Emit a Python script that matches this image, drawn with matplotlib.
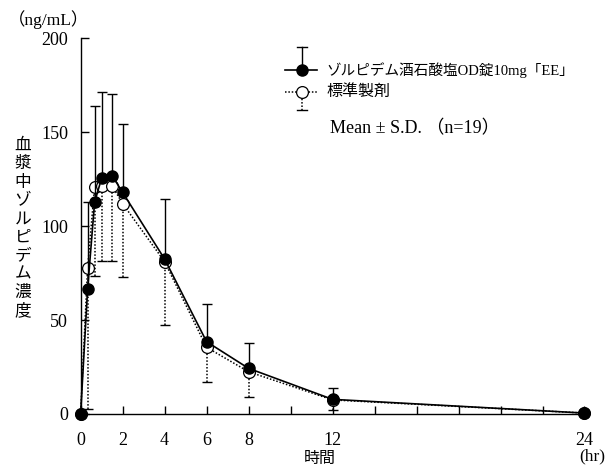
import matplotlib
matplotlib.use("Agg")
import matplotlib.pyplot as plt
from matplotlib.lines import Line2D
import numpy as np

# sampling times (hr)
times = [0, 1/3, 2/3, 1, 1.5, 2, 4, 6, 8, 12, 24]
# ゾルピデム酒石酸塩OD錠10mg「EE」 (test)
test_mean = [0, 66.4, 112.7, 125.5, 126.9, 118.0, 82.5, 38.5, 24.3, 7.8, 0.5]
test_sd = [0, 46.6, 51.4, 45.8, 43.7, 36.6, 32.0, 19.9, 13.7, 5.9, 0]
# 標準製剤 (reference)
ref_mean = [0, 77.6, 121.0, 121.5, 121.5, 112.0, 81.1, 35.5, 22.5, 7.5, 0.5]
ref_sd = [0, 74.9, 47.5, 39.9, 40.0, 39.2, 33.9, 18.6, 13.3, 5.4, 0]

xticks = [0, 2, 4, 6, 8, 10, 12, 14, 16, 18, 20, 22, 24]
xticklabels = ["0", "2", "4", "6", "8", "", "12", "", "", "", "", "", "24"]
yticks = [0, 50, 100, 150, 200]

label_test = "ゾルピデム酒石酸塩OD錠10mg「EE」"
label_ref = "標準製剤"

serif = ["Liberation Serif", "Noto Sans CJK JP"]
jp = ["Noto Sans CJK JP", "Liberation Serif"]

W, H = 607, 468
fig = plt.figure(figsize=(W / 100, H / 100), dpi=100)
ax = fig.add_axes([80.6 / W, 1 - 414 / H, 503.9 / W, 375.7 / H])

t = np.array(times)
tm, ts = np.array(test_mean), np.array(test_sd)
rm, rs = np.array(ref_mean), np.array(ref_sd)
idx = slice(1, 10)

# reference: dotted line, lower error bars
eb = ax.errorbar(t[idx], rm[idx], yerr=[rs[idx], np.zeros(9)], fmt="none",
                 ecolor="black", elinewidth=1.1, capsize=3.8, capthick=1.0,
                 zorder=2)
eb[2][0].set_linestyle((0, (1, 1.2)))
ax.plot(t, rm, linestyle=(0, (1, 1.2)), color="black", linewidth=1.1,
        marker="o", markersize=8.5, markerfacecolor="white",
        markeredgecolor="black", markeredgewidth=0.9, zorder=3, clip_on=False)

# test: solid line, upper error bars
ax.errorbar(t[idx], tm[idx], yerr=[np.zeros(9), ts[idx]], fmt="none",
            ecolor="black", elinewidth=1.0, capsize=3.8, capthick=1.0,
            zorder=4)
ax.plot(t, tm, linestyle="-", color="black", linewidth=1.2,
        marker="o", markersize=8, markerfacecolor="black",
        markeredgecolor="black", zorder=5, clip_on=False)

ax.set_xlim(0, 24)
ax.set_ylim(0, 200)
ax.spines["top"].set_visible(False)
ax.spines["right"].set_visible(False)
for s in ("left", "bottom"):
    ax.spines[s].set_linewidth(1.0)

ax.set_xticks(xticks)
ax.set_xticklabels(xticklabels, family=serif, fontsize=13)
ax.set_yticks(yticks)
ax.set_yticklabels([str(v) for v in yticks], family=serif, fontsize=13)
ax.tick_params(axis="both", direction="in", length=6, width=1.0)
ax.tick_params(axis="y", pad=9)
ax.tick_params(axis="x", pad=13)

# axis texts
fig.text(8 / W, 1 - 20 / H, "（ng/mL）", family=serif, fontsize=12.5,
         ha="left", va="center")
fig.text(579 / W, 1 - 456 / H, "(hr)", family=serif, fontsize=12.5,
         ha="left", va="center")
fig.text(320 / W, 1 - 458 / H, "時間", family=jp, fontsize=11.5,
         ha="center", va="center")
fig.text(23 / W, 1 - 228 / H, "\n".join("血漿中ゾルピデム濃度"), family=jp,
         fontsize=12, ha="center", va="center", linespacing=1.1)

# legend drawn by hand
def fx(px):
    return px / W

def fy(py):
    return 1 - py / H

tf = fig.transFigure
fig.add_artist(Line2D([fx(285), fx(317)], [fy(70), fy(70)], color="black",
                      linewidth=1.2, transform=tf))
fig.add_artist(Line2D([fx(301.7), fx(301.7)], [fy(70), fy(47)], color="black",
                      linewidth=1.0, transform=tf))
fig.add_artist(Line2D([fx(296.5), fx(307)], [fy(47), fy(47)], color="black",
                      linewidth=1.0, transform=tf))
fig.add_artist(Line2D([fx(301.7)], [fy(70)], marker="o", markersize=8,
                      color="black", transform=tf))
fig.add_artist(Line2D([fx(285), fx(317)], [fy(91.5), fy(91.5)], color="black",
                      linewidth=1.1, linestyle=(0, (1, 1.2)), transform=tf))
fig.add_artist(Line2D([fx(301.7), fx(301.7)], [fy(91.5), fy(110)],
                      color="black", linewidth=1.1, linestyle=(0, (1, 1.2)),
                      transform=tf))
fig.add_artist(Line2D([fx(296.5), fx(307)], [fy(110), fy(110)], color="black",
                      linewidth=1.0, transform=tf))
fig.add_artist(Line2D([fx(301.7)], [fy(91.5)], marker="o", markersize=8.5,
                      markerfacecolor="white", markeredgecolor="black",
                      markeredgewidth=0.9, transform=tf))
fig.text(fx(326), fy(70), label_test, family=serif, fontsize=10.5,
         ha="left", va="center")
fig.text(fx(326), fy(91.5), label_ref, family=jp, fontsize=11.5,
         ha="left", va="center")
fig.text(fx(330), fy(129), "Mean ± S.D. （n=19）", family=serif, fontsize=13,
         ha="left", va="center")

fig.savefig("out.png", dpi=100)
